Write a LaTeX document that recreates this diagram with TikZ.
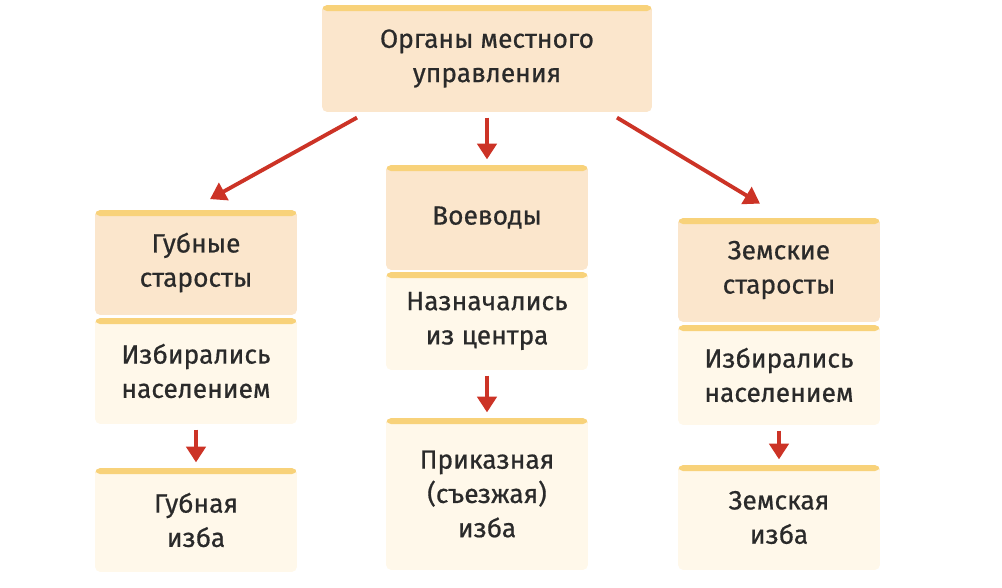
\documentclass[tikz,border=0pt]{standalone}
\usepackage{fontspec}
\setmainfont{Fira Sans}[FakeBold=0.6]
\usetikzlibrary{arrows.meta,positioning}
\definecolor{headfill}{HTML}{FBE6CC}
\definecolor{bodyfill}{HTML}{FFF8EA}
\definecolor{stripcol}{HTML}{F8D27A}
\definecolor{arrowred}{HTML}{CC3326}
\definecolor{textcol}{HTML}{2A2A2A}
\begin{document}
\begin{tikzpicture}[
			x=0.02cm, y=-0.02cm,
			every node/.style={font=\fontsize{15}{19.5}\selectfont, text=textcol, align=center},
			box/.style={rectangle, rounded corners=3pt, minimum width=4.04cm, inner sep=2pt,
				path picture={\fill[stripcol] ([yshift=-3.5pt]path picture bounding box.north west) rectangle (path picture bounding box.north east);}},
			head/.style={box, fill=headfill},
			body/.style={box, fill=bodyfill},
			arrow/.style={-{Triangle[length=9pt,width=11pt]}, line width=2.2pt, draw=arrowred}
		]
		\useasboundingbox (0,0) rectangle (1002,588);

		\node (top) [head, minimum width=6.6cm, minimum height=2.14cm] at (487,58.5) {Органы местного\\управления};

		\node (lhead) [head, minimum height=2.1cm] at (196,262.5) {Губные\\старосты};
		\node (lbody) [body, minimum height=2.12cm] at (196,371) {Избирались\\населением};
		\node (lbot) [body, minimum height=2.08cm] at (196,520) {Губная\\изба};

		\node (mhead) [head, minimum height=2.1cm] at (487,217.5) {Воеводы};
		\node (mbody) [body, minimum height=1.96cm] at (487,321) {Назначались\\из центра};
		\node (mbot) [body, minimum height=3.04cm] at (487,494) {Приказная\\(съезжая)\\изба};

		\node (rhead) [head, minimum height=2.08cm] at (779,270) {Земские\\старосты};
		\node (rbody) [body, minimum height=2.0cm] at (779,375) {Избирались\\населением};
		\node (rbot) [body, minimum height=2.1cm] at (779,517.5) {Земская\\изба};

		% arrows
		\draw[arrow] ([xshift=-2.6cm,yshift=-3pt]top.south) -- ([xshift=0.28cm,yshift=6pt]lhead.north);
		\draw[arrow] ([yshift=-3pt]top.south) -- ([yshift=3pt]mhead.north);
		\draw[arrow] ([xshift=2.6cm,yshift=-3pt]top.south) -- ([xshift=-0.38cm,yshift=8pt]rhead.north);
		\draw[arrow] ([yshift=-3pt]lbody.south) -- ([yshift=3pt]lbot.north);
		\draw[arrow] ([yshift=-3pt]mbody.south) -- ([yshift=3pt]mbot.north);
		\draw[arrow] ([yshift=-3pt]rbody.south) -- ([yshift=3pt]rbot.north);
	\end{tikzpicture}
\end{document}
